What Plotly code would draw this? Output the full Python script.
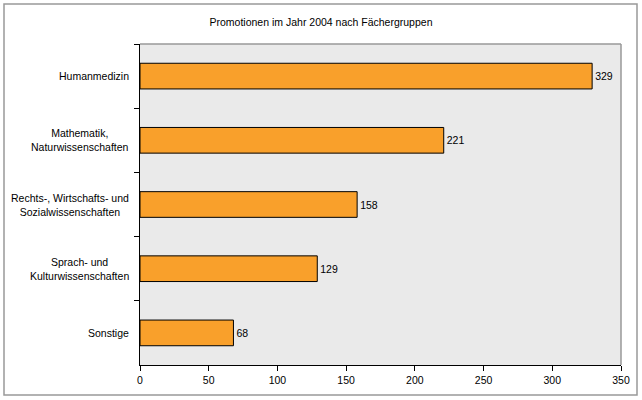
import plotly.graph_objects as go

categories = ["Humanmedizin", "Mathematik,<br>Naturwissenschaften",
              "Rechts-, Wirtschafts- und<br>Sozialwissenschaften",
              "Sprach- und<br>Kulturwissenschaften", "Sonstige"]
values = [329, 221, 158, 129, 68]
x_ticks = [0, 50, 100, 150, 200, 250, 300, 350]
title = "Promotionen im Jahr 2004 nach Fächergruppen"

W, H = 642, 400
L, R, T, B = 140, 21, 44, 35
pw, ph = W - L - R, H - T - B

font = dict(family="Liberation Sans, Arial, sans-serif", size=10.5, color="black")

fig = go.Figure(go.Bar(
    x=values, y=categories, orientation="h",
    marker=dict(color="#F9A02B", line=dict(color="black", width=1)),
    text=[str(v) for v in values], textposition="outside",
    textfont=font, cliponaxis=False, width=0.4,
))

annotations = [dict(x=-9 / pw, xref="paper", y=c, yref="y", text=c,
                    xanchor="right", yanchor="middle", align="center",
                    showarrow=False, font=font) for c in categories]

def px(x):
    return (x - L) / pw

def py(y):
    return (H - y - B) / ph

shapes = [
    dict(type="rect", xref="paper", yref="paper",
         x0=px(4), x1=px(637), y0=py(395), y1=py(4),
         line=dict(color="#999999", width=1.5), layer="below"),
    dict(type="line", xref="paper", yref="paper", x0=0, x1=1, y0=1, y1=1,
         line=dict(color="#999999", width=1.5)),
    dict(type="line", xref="paper", yref="paper", x0=1, x1=1, y0=0, y1=1,
         line=dict(color="#999999", width=1.5)),
]

fig.update_layout(
    width=W, height=H,
    margin=dict(l=L, r=R, t=T, b=B),
    paper_bgcolor="white", plot_bgcolor="#EAEAEA",
    font=font,
    title=dict(text=title, x=0.5, xref="container", xanchor="center",
               y=1 - 22 / H, yref="container", yanchor="middle", font=font),
    showlegend=False,
    annotations=annotations, shapes=shapes,
    xaxis=dict(range=[0, 350], tickvals=x_ticks, ticks="outside", ticklen=5,
               tickcolor="black", showline=True, linecolor="black", linewidth=1,
               showgrid=False, zeroline=False, tickfont=font, fixedrange=True),
    yaxis=dict(autorange="reversed", showticklabels=False, ticks="outside",
               ticklen=5, tickcolor="black", tickson="boundaries",
               showline=True, linecolor="black", linewidth=1, showgrid=False,
               zeroline=False),
)

fig.write_html("out.html", config={"displayModeBar": False},
               post_script="document.body.style.margin='0';document.body.style.overflow='hidden';")
